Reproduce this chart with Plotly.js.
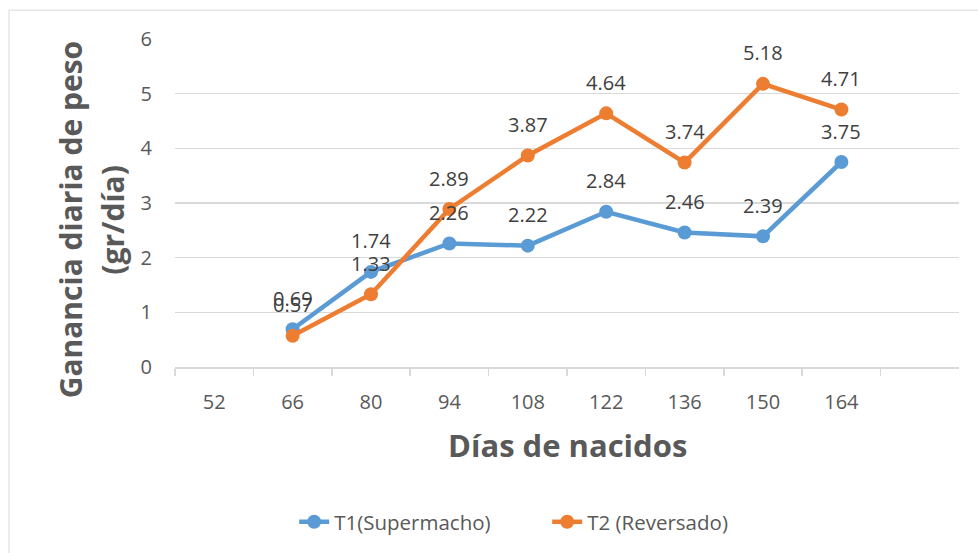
<!DOCTYPE html>
<html>
<head>
<meta charset="utf-8">
<script src="https://cdn.plot.ly/plotly-3.0.1.min.js"></script>
<style>html,body{margin:0;padding:0;background:#fff;}#chart{width:978px;height:553px;}</style>
</head>
<body>
<div id="chart"></div>
<script>
const categories = ['52', '66', '80', '94', '108', '122', '136', '150', '164'];
const t1Values = [null, 0.69, 1.74, 2.26, 2.22, 2.84, 2.46, 2.39, 3.75];
const t2Values = [null, 0.57, 1.33, 2.89, 3.87, 4.64, 3.74, 5.18, 4.71];
const seriesNames = ['T1(Supermacho)', 'T2 (Reversado)'];
const yTickVals = [0, 1, 2, 3, 4, 5, 6];

const FONT = '"Open Sans", "Noto Sans", sans-serif';
const BLUE = '#5B9BD5';
const ORANGE = '#ED7D31';

function lineTrace(name, vals, color) {
  return {
    type: 'scatter', mode: 'lines+markers', name: name,
    x: categories, y: vals, connectgaps: false,
    line: {color: color, width: 4.5},
    marker: {color: color, size: 14},
    cliponaxis: false
  };
}

const annotations = [];
[t1Values, t2Values].forEach(vals => {
  vals.forEach((v, i) => {
    if (v === null) return;
    annotations.push({
      x: i, y: v, xref: 'x', yref: 'y',
      text: v.toFixed(2), showarrow: false, yshift: 31,
      font: {family: FONT, size: 20, color: '#404040'}
    });
  });
});

annotations.push({
  xref: 'paper', yref: 'paper', x: -0.134, y: 0.45, xanchor: 'center', yanchor: 'middle',
  text: 'Ganancia diaria de peso', textangle: -90, showarrow: false,
  font: {family: FONT, size: 30, color: '#595959', weight: 'bold'}
});
annotations.push({
  xref: 'paper', yref: 'paper', x: -0.080, y: 0.45, xanchor: 'center', yanchor: 'middle',
  text: '(gr/día)', textangle: -90, showarrow: false,
  font: {family: FONT, size: 30, color: '#595959', weight: 'bold'}
});
annotations.push({
  xref: 'paper', yref: 'paper', x: 0.5, y: -0.237, xanchor: 'center', yanchor: 'middle',
  text: 'Días de nacidos', showarrow: false,
  font: {family: FONT, size: 31, color: '#595959', weight: 'bold'}
});

const layout = {
  width: 978, height: 553,
  margin: {l: 175, r: 19, t: 39, b: 185},
  paper_bgcolor: '#fff', plot_bgcolor: '#fff',
  showlegend: true,
  legend: {
    orientation: 'h', x: 0.152, xanchor: 'left', y: -0.468, yanchor: 'middle',
    entrywidth: 208,
    font: {family: FONT, size: 20.5, color: '#595959'}
  },
  xaxis: {
    type: 'category', categoryorder: 'array', categoryarray: categories,
    range: [-0.5, 9.5], tickson: 'boundaries', ticks: 'outside', ticklen: 7,
    tickcolor: '#d9d9d9', tickwidth: 1.5, showgrid: false, zeroline: false,
    showline: true, linecolor: '#d9d9d9', linewidth: 1.5,
    ticklabelstandoff: 16,
    tickfont: {family: FONT, size: 20, color: '#595959'}
  },
  yaxis: {
    range: [0, 6], tickvals: yTickVals, showgrid: true, gridcolor: '#d9d9d9', gridwidth: 1.5,
    zeroline: false, showline: false, ticks: 'outside', ticklen: 18, tickcolor: 'rgba(0,0,0,0)',
    tickfont: {family: FONT, size: 20, color: '#595959'}, fixedrange: true
  },
  shapes: [{
    type: 'rect', xref: 'paper', yref: 'paper',
    x0: -0.2117, x1: 1.1, y0: -0.65, y1: 1.088,
    line: {color: '#d9d9d9', width: 1}, fillcolor: 'rgba(0,0,0,0)', layer: 'below'
  }],
  annotations: annotations
};

Plotly.newPlot('chart', [lineTrace(seriesNames[0], t1Values, BLUE), lineTrace(seriesNames[1], t2Values, ORANGE)], layout, {staticPlot: true});
</script>
</body>
</html>
